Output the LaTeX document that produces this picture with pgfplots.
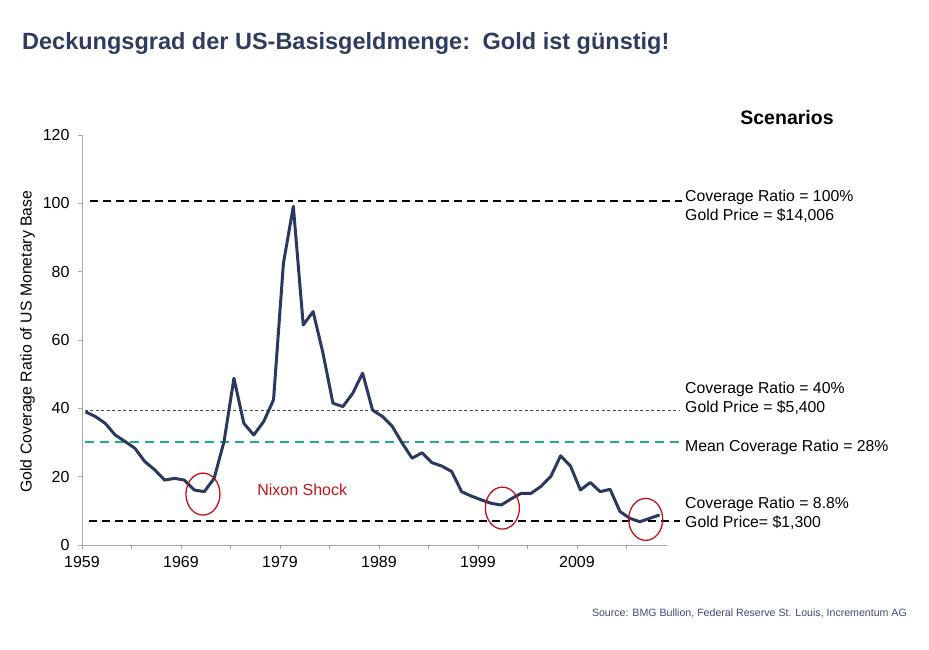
\documentclass[border=0pt]{standalone}
\usepackage{pgfplots}
\pgfplotsset{compat=1.18}
\usepackage{fontspec}
\setmainfont{Liberation Sans}
\definecolor{navy}{HTML}{2B3960}
\definecolor{titlec}{HTML}{2F3C60}
\definecolor{greenl}{HTML}{1FAE7C}
\definecolor{redc}{HTML}{C0141C}
\definecolor{srcc}{HTML}{3A4A7A}
\pgfplotstableread{
year value
1959 39.0
1960 37.6
1961 35.6
1962 32.2
1963 30.3
1964 28.3
1965 24.4
1966 22.0
1967 19.0
1968 19.5
1969 19.0
1970 16.1
1971 15.6
1972 19.5
1973 30.3
1974 48.8
1975 35.6
1976 32.2
1977 36.1
1978 42.5
1979 82.5
1980 99.1
1981 64.4
1982 68.3
1983 56.1
1984 41.5
1985 40.5
1986 44.4
1987 50.3
1988 39.5
1989 37.6
1990 34.7
1991 29.8
1992 25.4
1993 27.0
1994 24.1
1995 23.1
1996 21.5
1997 15.6
1998 14.3
1999 13.2
2000 12.2
2001 11.7
2002 13.5
2003 15.1
2004 15.1
2005 17.1
2006 20.0
2007 26.1
2008 23.1
2009 16.1
2010 18.3
2011 15.6
2012 16.3
2013 9.8
2014 7.8
2015 6.8
2016 7.8
2017 8.8
}\ratio
\begin{document}
\begin{tikzpicture}[x=1pt,y=1pt]
\path[use as bounding box] (0,0) rectangle (929,650);
\node[anchor=west,inner sep=0pt,font=\fontsize{23.5}{28}\selectfont\bfseries,text=titlec] at (22,607) {Deckungsgrad der US-Basisgeldmenge:\, Gold ist günstig!};
\begin{axis}[at={(82pt,105pt)}, anchor=south west, scale only axis,
  width=585pt, height=410pt,
  xmin=1958.65, xmax=2017.75, ymin=0, ymax=120,
  axis x line*=bottom, axis y line*=left,
  axis line style={draw=gray!70, -, line width=0.8pt},
  xtick={1958.65,1963.65,1968.65,1973.65,1978.65,1983.65,1988.65,1993.65,1998.65,2003.65,2008.65,2013.65},
  xticklabels={1959,,1969,,1979,,1989,,1999,,2009,},
  ytick={0,20,40,60,80,100,120},
  tick align=outside, major tick length=4pt,
  tick style={draw=gray!70, line width=0.8pt},
  ticklabel style={font=\fontsize{16}{18}\selectfont, text=black},
  xticklabel style={yshift=-4pt},
  yticklabel style={xshift=-5pt},
  /pgf/number format/assume math mode=true,
  clip=false,
  ylabel={Gold Coverage Ratio of US Monetary Base},
  ylabel style={font=\fontsize{15.8}{18}\selectfont, at={(axis description cs:-0.093,0.496)}, anchor=center},
]
\addplot[black, line width=2pt, dash pattern=on 8pt off 5pt] coordinates {(1959.45,100.7) (2019.25,100.7)};
\addplot[gray!60!black, line width=1pt, dash pattern=on 3pt off 2.5pt] coordinates {(1958.95,39.5) (2019.1,39.5)};
\addplot[greenl, line width=2pt, dash pattern=on 9pt off 6pt] coordinates {(1959.0,30.1) (2019.1,30.1)};
\addplot[black, line width=2pt, dash pattern=on 8pt off 5pt] coordinates {(1959.4,7.0) (2019.1,7.0)};
\addplot[navy, line width=3pt, line join=round] table[x=year,y=value] {\ratio};
\draw[redc, line width=1.3pt] (axis cs:1970.87,14.9) ellipse [x radius=17pt, y radius=21pt];
\draw[redc, line width=1.3pt] (axis cs:2001.12,10.8) ellipse [x radius=17pt, y radius=21pt];
\draw[redc, line width=1.3pt] (axis cs:2015.6,7.5) ellipse [x radius=17pt, y radius=21pt];
\node[text=redc, font=\fontsize{16}{18}\selectfont] at (axis cs:1980.9,16.1) {Nixon Shock};
\end{axis}
\begin{scope}[every node/.style={anchor=west, inner sep=0pt, font=\fontsize{15.8}{18}\selectfont}]
\node at (685,453) {Coverage Ratio = 100\%};
\node at (685,434) {Gold Price = \$14,006};
\node at (685,261) {Coverage Ratio = 40\%};
\node at (685,242) {Gold Price = \$5,400};
\node at (685,203) {Mean Coverage Ratio = 28\%};
\node at (685,146) {Coverage Ratio = 8.8\%};
\node at (685,127) {Gold Price= \$1,300};
\end{scope}
\node[font=\fontsize{19.5}{22}\selectfont\bfseries] at (787,532) {Scenarios};
\node[anchor=east, inner sep=0pt, text=srcc, font=\fontsize{10.6}{12}\selectfont] at (907,37) {Source: BMG Bullion, Federal Reserve St. Louis, Incrementum AG};
\end{tikzpicture}
\end{document}
